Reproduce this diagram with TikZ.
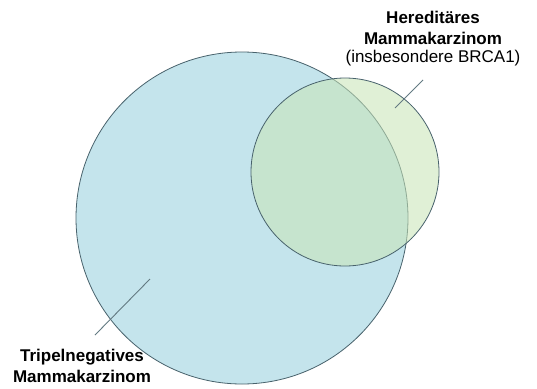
\documentclass[tikz,border=0pt]{standalone}
\usepackage{fontspec}
\setmainfont{Liberation Sans}
\usetikzlibrary{positioning}

\definecolor{tnblue}{RGB}{196,228,236}
\definecolor{hmgreen}{RGB}{200,228,182}
\definecolor{rim}{RGB}{72,98,108}

\tikzset{
	venn/.style={circle,draw=rim,line width=0.8pt,inner sep=0pt},
	leader/.style={draw=rim!85,line width=0.9pt},
	lbl/.style={align=center,font=\fontsize{17}{21}\selectfont,inner sep=0pt}
}

\begin{document}
\begin{tikzpicture}[x=1pt,y=-1pt]
		\useasboundingbox[fill=white] (0,0) rectangle (537,388);
		\node[venn,fill=tnblue,minimum size=332pt] (tnbc) at (242,218) {};
		\node[venn,fill=hmgreen,fill opacity=0.55,draw opacity=1,minimum size=188pt] (hmk) at (345,172) {};
		\coordinate (tn-in) at (150,279);
		\coordinate (tn-out) at (95,335);
		\coordinate (hm-in) at (395,108);
		\coordinate (hm-out) at (423,80);
		\draw[leader] (tn-in) -- (tn-out);
		\draw[leader] (hm-in) -- (hm-out);
		\node[lbl,font=\fontsize{17}{21}\selectfont\bfseries] (tnlbl) at (82,366) {Tripelnegatives\\Mammakarzinom};
		\node[lbl,font=\fontsize{17}{21}\selectfont\bfseries] (hmlbl) at (433,28) {Hereditäres\\Mammakarzinom};
		\node[lbl,below=5pt of hmlbl] (hmsub) {(insbesondere BRCA1)};
	\end{tikzpicture}
\end{document}
